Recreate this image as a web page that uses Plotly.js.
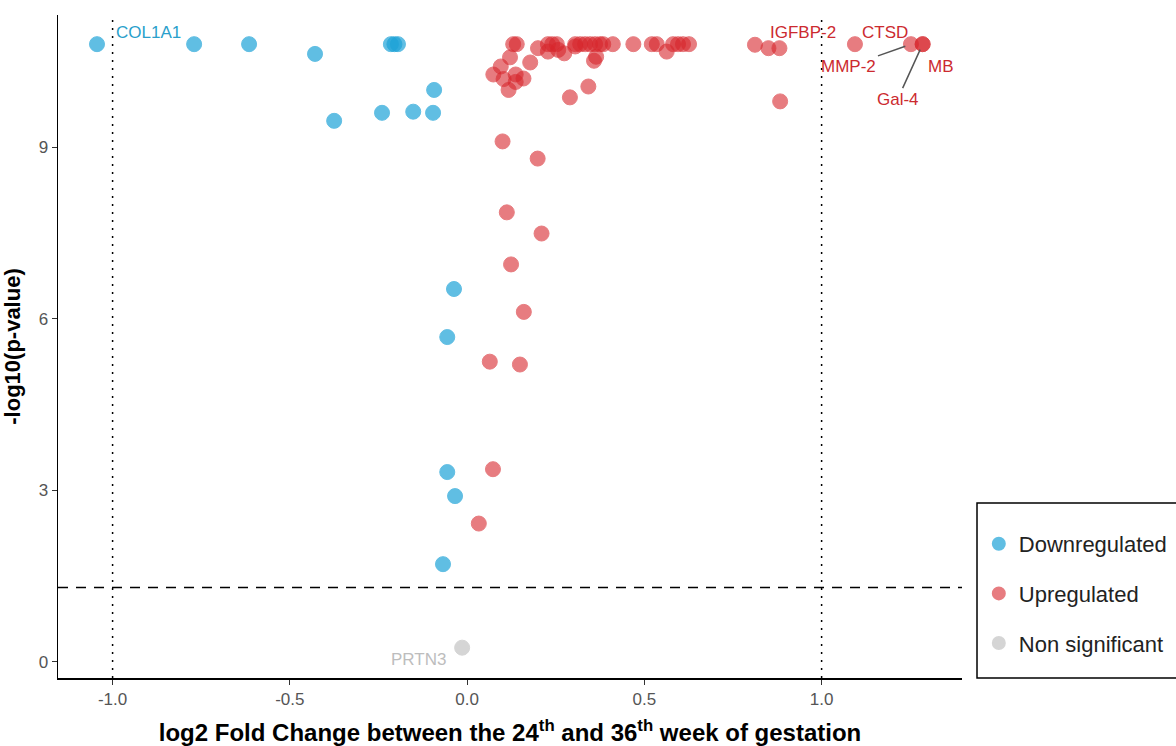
<!DOCTYPE html>
<html>
<head>
<meta charset="utf-8">
<script src="https://cdn.plot.ly/plotly-3.0.1.min.js"></script>
<style>html,body{margin:0;padding:0;background:#fff;}#chart{width:1176px;height:746px;}</style>
</head>
<body>
<div id="chart"></div>
<script>
// Downregulated proteins
const downX = [-1.044, -0.770, -0.615, -0.429, -0.215, -0.205, -0.195, -0.093, -0.375, -0.240, -0.152, -0.096, -0.037, -0.056, -0.056, -0.034, -0.068];
const downY = [10.80, 10.80, 10.80, 10.63, 10.80, 10.80, 10.80, 10.00, 9.46, 9.60, 9.62, 9.60, 6.52, 5.68, 3.32, 2.90, 1.71];
const downLabels = ["COL1A1", "", "", "", "", "", "", "", "", "", "", "", "", "", "", "", ""];

// Upregulated proteins
const upX = [0.130, 0.140, 0.200, 0.228, 0.240, 0.253, 0.305, 0.319, 0.333, 0.347, 0.361, 0.375, 0.384, 0.411, 0.469, 0.521, 0.535, 0.581, 0.595, 0.609, 0.626, 0.812, 1.094, 1.252, 1.285, 1.285,
  0.228, 0.257, 0.274, 0.305, 0.364, 0.358, 0.563, 0.850, 0.881, 0.121, 0.178, 0.095, 0.074, 0.103, 0.137, 0.159, 0.137, 0.117, 0.342, 0.290, 0.883,
  0.100, 0.199, 0.112, 0.210, 0.124, 0.160, 0.064, 0.149, 0.073, 0.033];
const upY = [10.80, 10.80, 10.73, 10.80, 10.80, 10.80, 10.80, 10.80, 10.80, 10.80, 10.80, 10.80, 10.80, 10.80, 10.80, 10.80, 10.80, 10.80, 10.80, 10.80, 10.80, 10.79, 10.80, 10.80, 10.80, 10.80,
  10.67, 10.70, 10.64, 10.76, 10.58, 10.51, 10.67, 10.73, 10.73, 10.57, 10.48, 10.41, 10.27, 10.19, 10.27, 10.20, 10.14, 10.00, 10.06, 9.87, 9.80,
  9.10, 8.80, 7.86, 7.49, 6.95, 6.12, 5.25, 5.20, 3.37, 2.42];
const upLabels = {22: "CTSD", 23: "MMP-2", 24: "MB", 25: "Gal-4", 34: "IGFBP-2"};

// Non significant
const nsX = [-0.014];
const nsY = [0.25];
const nsLabels = ["PRTN3"];

const xTicks = [-1.0, -0.5, 0.0, 0.5, 1.0];
const yTicks = [0, 3, 6, 9];
const fcCut = [-1, 1];
const pCut = 1.301;

const FONT = "Liberation Sans, Arial, sans-serif";
const BLUE = "#1EA3D8", RED = "#D8262C", GREY = "#C4C4C4";

const traces = [
  {x: downX, y: downY, type: "scatter", mode: "markers", name: "Downregulated", legendgroup: "a",
   marker: {size: 15, color: BLUE, opacity: 0.7, line: {width: 1, color: BLUE}}},
  {x: upX, y: upY, type: "scatter", mode: "markers", name: "Upregulated", legendgroup: "b",
   marker: {size: 15, color: RED, opacity: 0.6, line: {width: 1, color: RED}}},
  {x: nsX, y: nsY, type: "scatter", mode: "markers", name: "Non significant", legendgroup: "c",
   marker: {size: 15, color: GREY, opacity: 0.7, line: {width: 1, color: GREY}}}
];

const labelFont = (c) => ({family: FONT, size: 17, color: c});
const ann = [];
ann.push({x: downX[0], y: downY[0], text: downLabels[0], showarrow: false, xshift: 51, yshift: 12, font: labelFont("#2A9FCB")});
ann.push({x: nsX[0], y: nsY[0], text: nsLabels[0], showarrow: false, xshift: -44, yshift: -12, font: labelFont("#BDBDBD")});
ann.push({x: upX[34], y: upY[34], text: upLabels[34], showarrow: false, xshift: 24, yshift: 16, font: labelFont("#CC2A2F")});
ann.push({x: upX[22], y: upY[22], text: upLabels[22], showarrow: false, xshift: 30, yshift: 12, font: labelFont("#CC2A2F")});
ann.push({x: upX[23], y: upY[23], text: upLabels[23], showarrow: true, ax: -62, ay: 22, arrowhead: 0, arrowwidth: 1.5, arrowcolor: "#555", standoff: 6, font: labelFont("#CC2A2F")});
ann.push({x: upX[25], y: upY[25], text: upLabels[25], showarrow: true, ax: -25, ay: 55, arrowhead: 0, arrowwidth: 1.5, arrowcolor: "#555", standoff: 6, font: labelFont("#CC2A2F")});
ann.push({x: upX[24], y: upY[24], text: upLabels[24], showarrow: false, xshift: 18, yshift: -22, font: labelFont("#CC2A2F")});

const shapes = [
  ...fcCut.map(v => ({type: "line", xref: "x", yref: "paper", x0: v, x1: v, y0: 0, y1: 1, line: {color: "#000", width: 1.5, dash: "2px,6px"}})),
  {type: "line", xref: "paper", yref: "y", x0: 0, x1: 1, y0: pCut, y1: pCut, line: {color: "#000", width: 1.5, dash: "10px,8px"}},
  // legend frame
  {type: "rect", xref: "paper", yref: "paper", x0: 1.0166, x1: 1.32, y0: 0, y1: 0.264, line: {color: "#000", width: 1.5}, fillcolor: "rgba(0,0,0,0)"}
];

const layout = {
  width: 1176, height: 746,
  margin: {l: 58, r: 214, t: 15, b: 68, autoexpand: false},
  paper_bgcolor: "#fff", plot_bgcolor: "#fff",
  font: {family: FONT, color: "#222"},
  showlegend: true,
  legend: {x: 1.0186, xanchor: "left", y: 0.2338, yanchor: "top", borderwidth: 0, bgcolor: "rgba(0,0,0,0)",
           font: {family: FONT, size: 22, color: "#222"}, tracegroupgap: 18, traceorder: "grouped",
           itemsizing: "constant"},
  xaxis: {range: [-1.154, 1.396], tickvals: xTicks, ticktext: xTicks.map(v => v.toFixed(1)),
          showgrid: false, zeroline: false, showline: true, linecolor: "#000", linewidth: 1.5,
          ticks: "outside", ticklen: 5, tickcolor: "#333", tickfont: {family: FONT, size: 17, color: "#555"},
          title: {text: "<b>log2 Fold Change between the 24<sup>th</sup> and 36<sup>th</sup> week of gestation</b>",
                  font: {family: FONT, size: 24, color: "#000"}, standoff: 18}},
  yaxis: {range: [-0.28, 11.31], tickvals: yTicks, ticktext: yTicks.map(String),
          showgrid: false, zeroline: false, showline: true, linecolor: "#000", linewidth: 1.5,
          ticks: "outside", ticklen: 5, tickcolor: "#333", tickfont: {family: FONT, size: 17, color: "#555"},
          title: {text: "<b>-log10(p-value)</b>", font: {family: FONT, size: 22, color: "#000"}, standoff: 14}},
  shapes: shapes,
  annotations: ann
};

Plotly.newPlot("chart", traces, layout, {staticPlot: true, displayModeBar: false});
</script>
</body>
</html>
